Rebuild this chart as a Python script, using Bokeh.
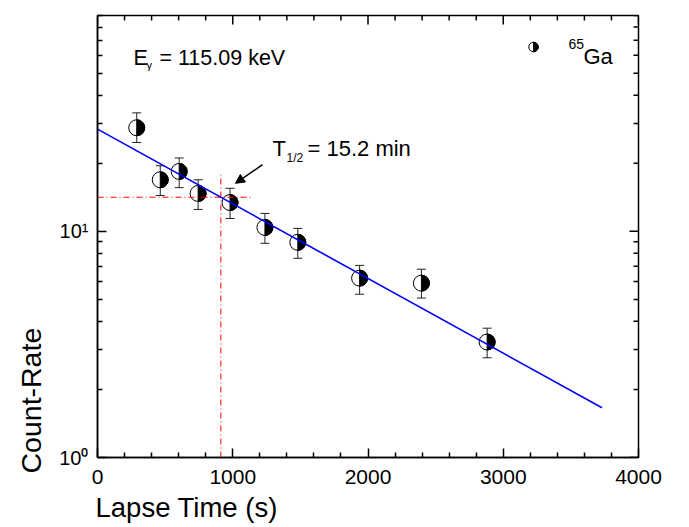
import numpy as np
from bokeh.plotting import figure
from bokeh.models import (ColumnDataSource, Whisker, TeeHead, FixedTicker, Arrow, NormalHead,
                          Title, Range1d)
from bokeh.core.properties import value
from bokeh.embed import file_html
from bokeh.resources import INLINE

# ---------------- data ----------------
lapse_time = [290, 464, 604, 744, 980, 1238, 1481, 1938, 2395, 2881]
count_rate = [28.7, 16.9, 18.4, 14.7, 13.4, 10.4, 8.94, 6.21, 5.90, 3.24]
rate_upper = [33.4, 19.5, 21.1, 16.9, 15.5, 12.0, 10.3, 7.07, 6.80, 3.73]
rate_lower = [24.7, 14.4, 15.6, 12.5, 11.4, 8.85, 7.6, 5.27, 5.07, 2.76]

fit_time = [0, 3730]
fit_rate = [28.3, 1.66]

half_life_time = [912, 912]
half_life_span = [1, 18.4]
half_rate_time = [0, 1140]
half_rate_level = [14.15, 14.15]

x_ticks = [0, 1000, 2000, 3000, 4000]
x_minor = [200, 400, 600, 800, 1200, 1400, 1600, 1800, 2200, 2400, 2600, 2800,
           3200, 3400, 3600, 3800]
y_ticks = [1, 10]
y_tick_labels = ["10\u2070", "10\u00b9"]
y_minor = [2, 3, 4, 5, 6, 7, 8, 9, 20, 30, 40, 50, 60, 70, 80, 90]

x_title = "Lapse Time (s)"
y_title = "Count-Rate"
energy_text = "= 115.09 keV"
half_life_text = "= 15.2 min"
nuclide = "Ga"
mass_number = "65"

X_MIN, X_MAX = 0, 4000
Y_MIN, Y_MAX = 1, 90

FONT = "Liberation Sans"

# ---------------- figure ----------------
p = figure(width=689, height=527, x_range=Range1d(X_MIN, X_MAX), y_range=Range1d(Y_MIN, Y_MAX),
           y_axis_type="log", output_backend="svg", toolbar_location=None,
           min_border_left=97, min_border_right=51, min_border_top=15, min_border_bottom=70)
p.xgrid.visible = False
p.ygrid.visible = False
p.outline_line_color = "black"
p.outline_line_width = 1.5
p.background_fill_color = "white"
p.border_fill_color = "white"

xticker = FixedTicker(ticks=x_ticks, minor_ticks=x_minor)
yticker = FixedTicker(ticks=y_ticks, minor_ticks=y_minor)

def style_axis(ax, size):
    ax.axis_line_width = 1.5
    ax.axis_line_color = "black"
    ax.major_tick_in = 9
    ax.major_tick_out = 0
    ax.minor_tick_in = 5
    ax.minor_tick_out = 0
    ax.major_tick_line_width = 1.5
    ax.minor_tick_line_width = 1.5
    ax.major_tick_line_color = "black"
    ax.minor_tick_line_color = "black"
    ax.major_label_text_font = FONT
    ax.major_label_text_font_size = size
    ax.major_label_text_color = "black"

xa = p.xaxis[0]
xa.ticker = xticker
style_axis(xa, "21px")
xa.major_label_standoff = 12

ya = p.yaxis[0]
ya.ticker = yticker
style_axis(ya, "20px")
ya.major_label_overrides = {t: s for t, s in zip(y_ticks, y_tick_labels)}
ya.major_label_standoff = 9

# axis titles as side-panel titles (left/bottom aligned as in the reference)
p.add_layout(Title(text=x_title, align="left", standoff=7, offset=-2,
                   text_font=FONT, text_font_size="27.5px", text_font_style="normal",
                   text_color="black"), "below")
p.add_layout(Title(text=y_title, align="left", standoff=20, offset=-16,
                   text_font=FONT, text_font_size="28.5px", text_font_style="normal",
                   text_color="black"), "left")

# mirrored inward ticks on top and right edges
p.ray(x=x_ticks, y=[Y_MAX] * len(x_ticks), length=9, length_units="screen",
      angle=-np.pi / 2, line_color="black", line_width=1.5)
p.ray(x=x_minor, y=[Y_MAX] * len(x_minor), length=5, length_units="screen",
      angle=-np.pi / 2, line_color="black", line_width=1.5)
p.ray(x=[X_MAX] * len(y_ticks), y=y_ticks, length=9, length_units="screen",
      angle=np.pi, line_color="black", line_width=1.5)
p.ray(x=[X_MAX] * len(y_minor), y=y_minor, length=5, length_units="screen",
      angle=np.pi, line_color="black", line_width=1.5)

# ---------------- data marks ----------------
src = ColumnDataSource(dict(t=lapse_time, v=count_rate, up=rate_upper, lo=rate_lower))
wh = Whisker(source=src, base="t", upper="up", lower="lo", line_color="#222222", line_width=1,
             upper_head=TeeHead(size=9, line_color="#222222", line_width=1),
             lower_head=TeeHead(size=9, line_color="#222222", line_width=1), level="underlay")
p.add_layout(wh)

p.scatter("t", "v", source=src, size=16, fill_color="white", line_color="black", line_width=1)
p.wedge("t", "v", source=src, radius=8, radius_units="screen", start_angle=-np.pi / 2,
        end_angle=np.pi / 2, fill_color="black", line_color="black", line_width=1)

# red half-life guide lines
p.line(half_life_time, half_life_span, line_color="red", line_width=1, line_dash="6 3 1 3")
p.line(half_rate_time, half_rate_level, line_color="red", line_width=1, line_dash="6 3 1 3")

# fit line
p.line(fit_time, fit_rate, line_color="#0000ff", line_width=1.6)

# arrow
p.add_layout(Arrow(end=NormalHead(size=9, fill_color="black", line_color="black"),
                   x_start=1220, y_start=19.7, x_end=1020, y_end=16.3,
                   line_color="black", line_width=1.5))

# ---------------- texts ----------------
def txt(x, y, s, size, dx=0, dy=0):
    p.text(x=[x], y=[y], text=[s], x_offset=dx, y_offset=dy, text_font=value(FONT),
           text_font_size=size, text_color="black", text_baseline="alphabetic",
           text_align="left")

# E_gamma
txt(266, 58.4, "E", "21.5px")
txt(266, 58.4, "γ", "11px", dx=13, dy=7)
txt(266, 58.4, energy_text, "21.5px", dx=26)

# T_1/2
txt(1294, 23.2, "T", "22px")
txt(1294, 23.2, "1/2", "12px", dx=14, dy=9)
txt(1294, 23.2, half_life_text, "22px", dx=35)

# legend
p.scatter([3224], [65.3], size=9.5, fill_color="white", line_color="black", line_width=1)
p.wedge([3224], [65.3], radius=4.75, radius_units="screen", start_angle=-np.pi / 2,
        end_angle=np.pi / 2, fill_color="black", line_color="black", line_width=1)
txt(3482, 59.0, mass_number, "14px", dy=-13)
txt(3482, 59.0, nuclide, "22px", dx=15)

open("out.html", "w").write(file_html(p, INLINE))
